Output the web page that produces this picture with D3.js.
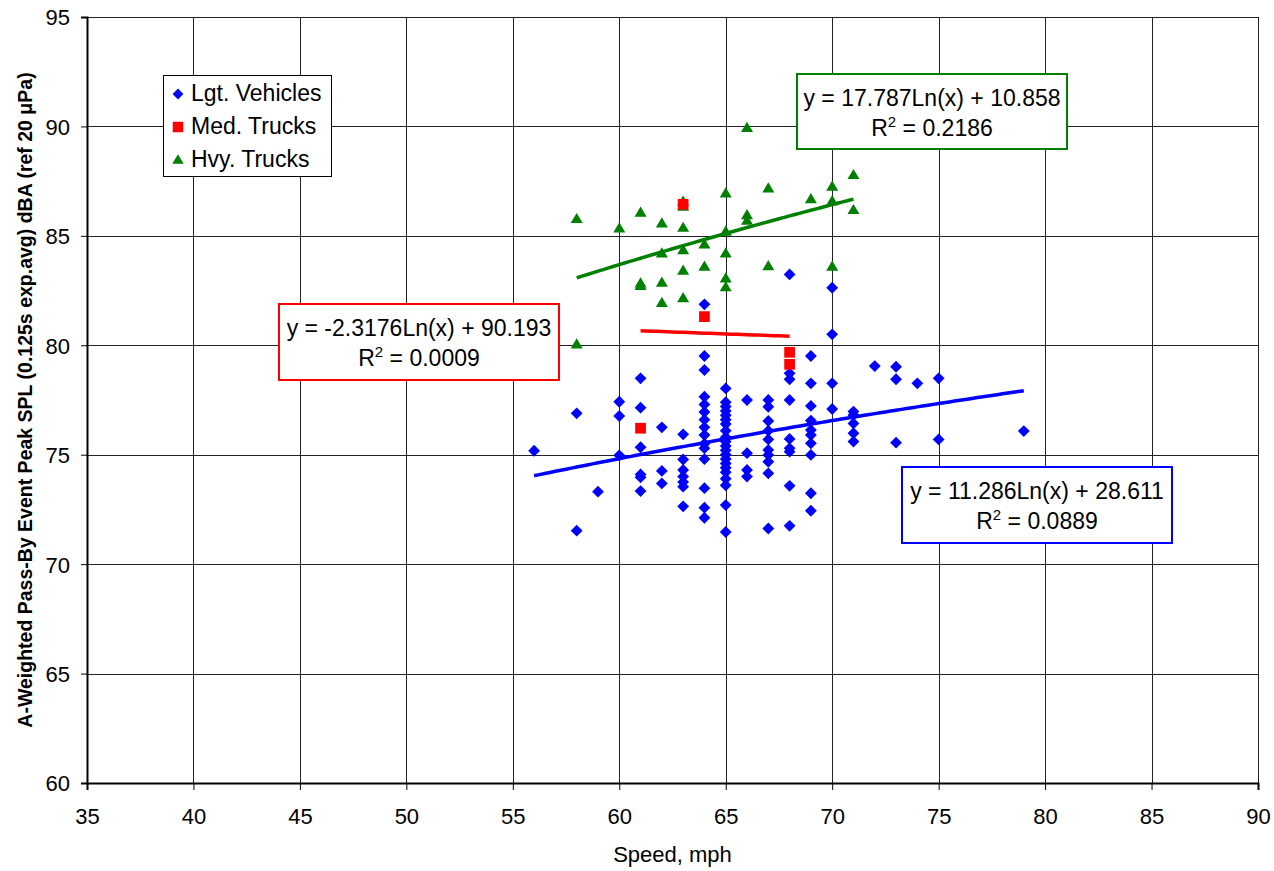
<!DOCTYPE html>
<html>
<head>
<meta charset="utf-8">
<script src="https://cdn.jsdelivr.net/npm/d3@7"></script>
<style>
  body { margin: 0; background: #fff; }
  text { font-family: Arial, "Liberation Sans", sans-serif; }
</style>
</head>
<body>
<div id="chart"></div>
<script>
// tick labels
var xTicks = [35, 40, 45, 50, 55, 60, 65, 70, 75, 80, 85, 90]
var yTicks = [60, 65, 70, 75, 80, 85, 90, 95]

// Lgt. Vehicles  (speed, dBA)
var lgtSpeed = [56, 58, 58, 59, 60, 60, 60,
  61, 61, 61, 61, 61, 61, 62, 62, 62,
  63, 63, 63, 63, 63, 63, 63,
  64, 64, 64, 64, 64, 64, 64, 64, 64, 64, 64, 64, 64, 64, 64,
  65, 65, 65, 65, 65, 65, 65, 65, 65, 65, 65, 65, 65, 65, 65, 65, 65, 65, 65, 65, 65,
  66, 66, 66, 66,
  67, 67, 67, 67, 67, 67, 67, 67, 67, 67,
  68, 68, 68, 68, 68, 68, 68, 68, 68,
  69, 69, 69, 69, 69, 69, 69, 69, 69, 69,
  70, 70, 70, 70, 71, 71, 71, 71, 71,
  72, 73, 73, 73, 74, 75, 75, 79]
var lgtLevel = [75.18, 76.89, 71.53, 73.31, 77.42, 76.77, 74.97,
  78.49, 77.15, 75.34, 74.10, 73.97, 73.34, 76.25, 74.26, 73.69,
  75.93, 74.78, 74.30, 74.00, 73.75, 73.54, 72.64,
  81.87, 79.51, 78.87, 77.65, 77.30, 76.95, 76.60, 76.25, 75.90, 75.50, 75.30, 74.80, 73.47, 72.58, 72.12,
  78.03, 77.40, 77.20, 77.00, 76.80, 76.60, 76.40, 76.10, 75.80, 75.60, 75.40, 75.20, 75.00, 74.80, 74.60, 74.40, 74.20, 73.90, 73.60, 72.70, 71.47,
  77.50, 75.07, 74.30, 74.00,
  77.50, 77.19, 76.54, 76.10, 75.70, 75.22, 74.99, 74.68, 74.15, 71.63,
  83.24, 78.72, 78.45, 77.50, 75.72, 75.29, 75.14, 73.58, 71.75,
  79.51, 78.26, 77.23, 76.56, 76.13, 75.90, 75.52, 74.99, 73.24, 72.44,
  82.63, 80.50, 78.26, 77.09, 76.97, 76.81, 76.43, 75.98, 75.60,
  79.05, 79.02, 78.45, 75.55, 78.26, 78.49, 75.70, 76.08]

// Med. Trucks
var medSpeed = [61, 63, 64, 68, 68]
var medLevel = [76.21, 86.44, 81.31, 79.68, 79.13]

// Hvy. Trucks
var hvySpeed = [58, 58, 60, 61, 61, 61, 62, 62, 62, 62,
  63, 63, 63, 63, 63, 63, 64, 64,
  65, 65, 65, 65, 65, 66, 66, 66, 67, 67, 69, 70, 70, 70, 71, 71]
var hvyLevel = [85.77, 80.04, 85.34, 86.06, 82.83, 82.71, 85.57, 84.20, 82.86, 81.94,
  86.56, 86.33, 85.37, 84.35, 83.41, 82.15, 84.61, 83.59,
  86.94, 85.19, 84.20, 83.06, 82.65, 89.93, 85.95, 85.69, 87.17, 83.62, 86.68, 87.25, 86.59, 83.59, 87.78, 86.18]

// log trendlines as printed on the chart
var trends = [
  {name: "lgt", a: 11.286, b: 28.611, r2: "0.0889", from: 56, to: 79, color: "#0000ff"},
  {name: "med", a: -2.3176, b: 90.193, r2: "0.0009", from: 61, to: 68, color: "#ff0000"},
  {name: "hvy", a: 17.787, b: 10.858, r2: "0.2186", from: 58, to: 71, color: "#008000"}
]

var W = 1274, H = 871
var margin = {top: 17, right: 16, bottom: 88, left: 87}
var width = W - margin.left - margin.right,
    height = H - margin.top - margin.bottom

var svg = d3.select("#chart").append("svg")
  .attr("width", W).attr("height", H)

var g = svg.append("g")
  .attr("transform", "translate(" + margin.left + "," + margin.top + ")")

var x = d3.scaleLinear().domain([35, 90]).range([0, width])
var y = d3.scaleLinear().domain([60, 95]).range([height, 0])

// grid
g.append("g").selectAll("line").data(xTicks).enter().append("line")
  .attr("x1", d => Math.round(x(d)) + 0.5).attr("x2", d => Math.round(x(d)) + 0.5)
  .attr("y1", 0).attr("y2", height)
  .attr("stroke", "#222").attr("stroke-width", 1)
g.append("g").selectAll("line").data(yTicks).enter().append("line")
  .attr("y1", d => Math.round(y(d)) + 0.5).attr("y2", d => Math.round(y(d)) + 0.5)
  .attr("x1", 0).attr("x2", width)
  .attr("stroke", "#222").attr("stroke-width", 1)

// axes
var xAxis = g.append("g")
  .attr("transform", "translate(0," + height + ")")
  .call(d3.axisBottom(x).tickValues(xTicks).tickSize(7))
var yAxis = g.append("g")
  .call(d3.axisLeft(y).tickValues(yTicks).tickSize(6).tickPadding(11))
;[xAxis, yAxis].forEach(function(a) {
  a.select(".domain").attr("stroke", "#000").attr("stroke-width", 2)
  a.selectAll(".tick line").attr("stroke", "#000")
  a.selectAll("text").attr("font-size", "22px").attr("fill", "#000")
    .style("font-family", "Arial, 'Liberation Sans', sans-serif")
})
xAxis.selectAll("text").attr("y", 41).attr("dy", 0)
yAxis.selectAll("text").attr("dy", "0.36em")

// trend lines
trends.forEach(function(t) {
  var pts = d3.range(t.from, t.to + 0.001, 0.25)
  g.append("path")
    .datum(pts)
    .attr("fill", "none")
    .attr("stroke", t.color)
    .attr("stroke-width", 3.5)
    .attr("d", d3.line().x(d => x(d)).y(d => y(t.a * Math.log(d) + t.b)))
})

// markers
var flatTriangle = {
  draw: function(ctx, size) {
    var w = Math.sqrt(size) * 1.2, h = w * 0.85
    ctx.moveTo(0, -h * 0.6)
    ctx.lineTo(w / 2, h * 0.4)
    ctx.lineTo(-w / 2, h * 0.4)
    ctx.closePath()
  }
}
var diamond = d3.symbol().type(d3.symbolSquare).size(70)
var square = d3.symbol().type(d3.symbolSquare).size(115)
var triangle = d3.symbol().type(flatTriangle).size(100)

g.append("g").selectAll("path").data(lgtSpeed).enter().append("path")
  .attr("d", diamond)
  .attr("transform", (d, i) => "translate(" + x(d) + "," + y(lgtLevel[i]) + ") rotate(45)")
  .attr("fill", "#0000ff")

g.append("g").selectAll("path").data(hvySpeed).enter().append("path")
  .attr("d", triangle)
  .attr("transform", (d, i) => "translate(" + x(d) + "," + y(hvyLevel[i]) + ")")
  .attr("fill", "#008000")

g.append("g").selectAll("path").data(medSpeed).enter().append("path")
  .attr("d", square)
  .attr("transform", (d, i) => "translate(" + x(d) + "," + y(medLevel[i]) + ")")
  .attr("fill", "#ff0000")

// trendline label boxes
var boxes = [
  {t: trends[2], x0: 797, y0: 74, w: 270, h: 75},
  {t: trends[1], x0: 279, y0: 304, w: 280, h: 76},
  {t: trends[0], x0: 902, y0: 467, w: 270, h: 76}
]
boxes.forEach(function(b) {
  var bg = svg.append("g")
  bg.append("rect")
    .attr("x", b.x0).attr("y", b.y0)
    .attr("width", b.w).attr("height", b.h)
    .attr("fill", "#fff").attr("stroke", b.t.color).attr("stroke-width", 2)
  var cx = b.x0 + b.w / 2
  var sign = b.t.b >= 0 ? " + " : " - "
  bg.append("text")
    .attr("x", cx).attr("y", b.y0 + 32)
    .attr("text-anchor", "middle").attr("font-size", "23px")
    .text("y = " + b.t.a + "Ln(x)" + sign + Math.abs(b.t.b))
  var r = bg.append("text")
    .attr("x", cx).attr("y", b.y0 + 62)
    .attr("text-anchor", "middle").attr("font-size", "23px")
  r.append("tspan").text("R")
  r.append("tspan").attr("dy", "-9").attr("font-size", "15px").text("2")
  r.append("tspan").attr("dy", "9").text(" = " + b.t.r2)
})

// legend
var legendItems = [
  {label: "Lgt. Vehicles", sym: d3.symbol().type(d3.symbolSquare).size(58), rot: 45, color: "#0000ff"},
  {label: "Med. Trucks", sym: d3.symbol().type(d3.symbolSquare).size(110), rot: 0, color: "#ff0000"},
  {label: "Hvy. Trucks", sym: d3.symbol().type(flatTriangle).size(90), rot: 0, color: "#008000"}
]
var lg = svg.append("g")
lg.append("rect")
  .attr("x", 163.5).attr("y", 75.5).attr("width", 168).attr("height", 101)
  .attr("fill", "#fff").attr("stroke", "#000").attr("stroke-width", 1)
legendItems.forEach(function(it, i) {
  var cy = 94 + i * 33
  lg.append("path")
    .attr("d", it.sym)
    .attr("transform", "translate(178," + cy + ") rotate(" + it.rot + ")")
    .attr("fill", it.color)
  lg.append("text")
    .attr("x", 191).attr("y", cy + 7)
    .attr("font-size", "23px")
    .text(it.label)
})

// axis titles
svg.append("text")
  .attr("x", margin.left + width / 2).attr("y", 862)
  .attr("text-anchor", "middle").attr("font-size", "22px")
  .text("Speed, mph")
svg.append("text")
  .attr("transform", "translate(32," + (margin.top + height / 2) + ") rotate(-90)")
  .attr("text-anchor", "middle").attr("font-size", "19.5px").attr("font-weight", "bold")
  .text("A-Weighted Pass-By Event Peak SPL (0.125s exp.avg) dBA (ref 20 \u03bcPa)")
</script>
</body>
</html>
